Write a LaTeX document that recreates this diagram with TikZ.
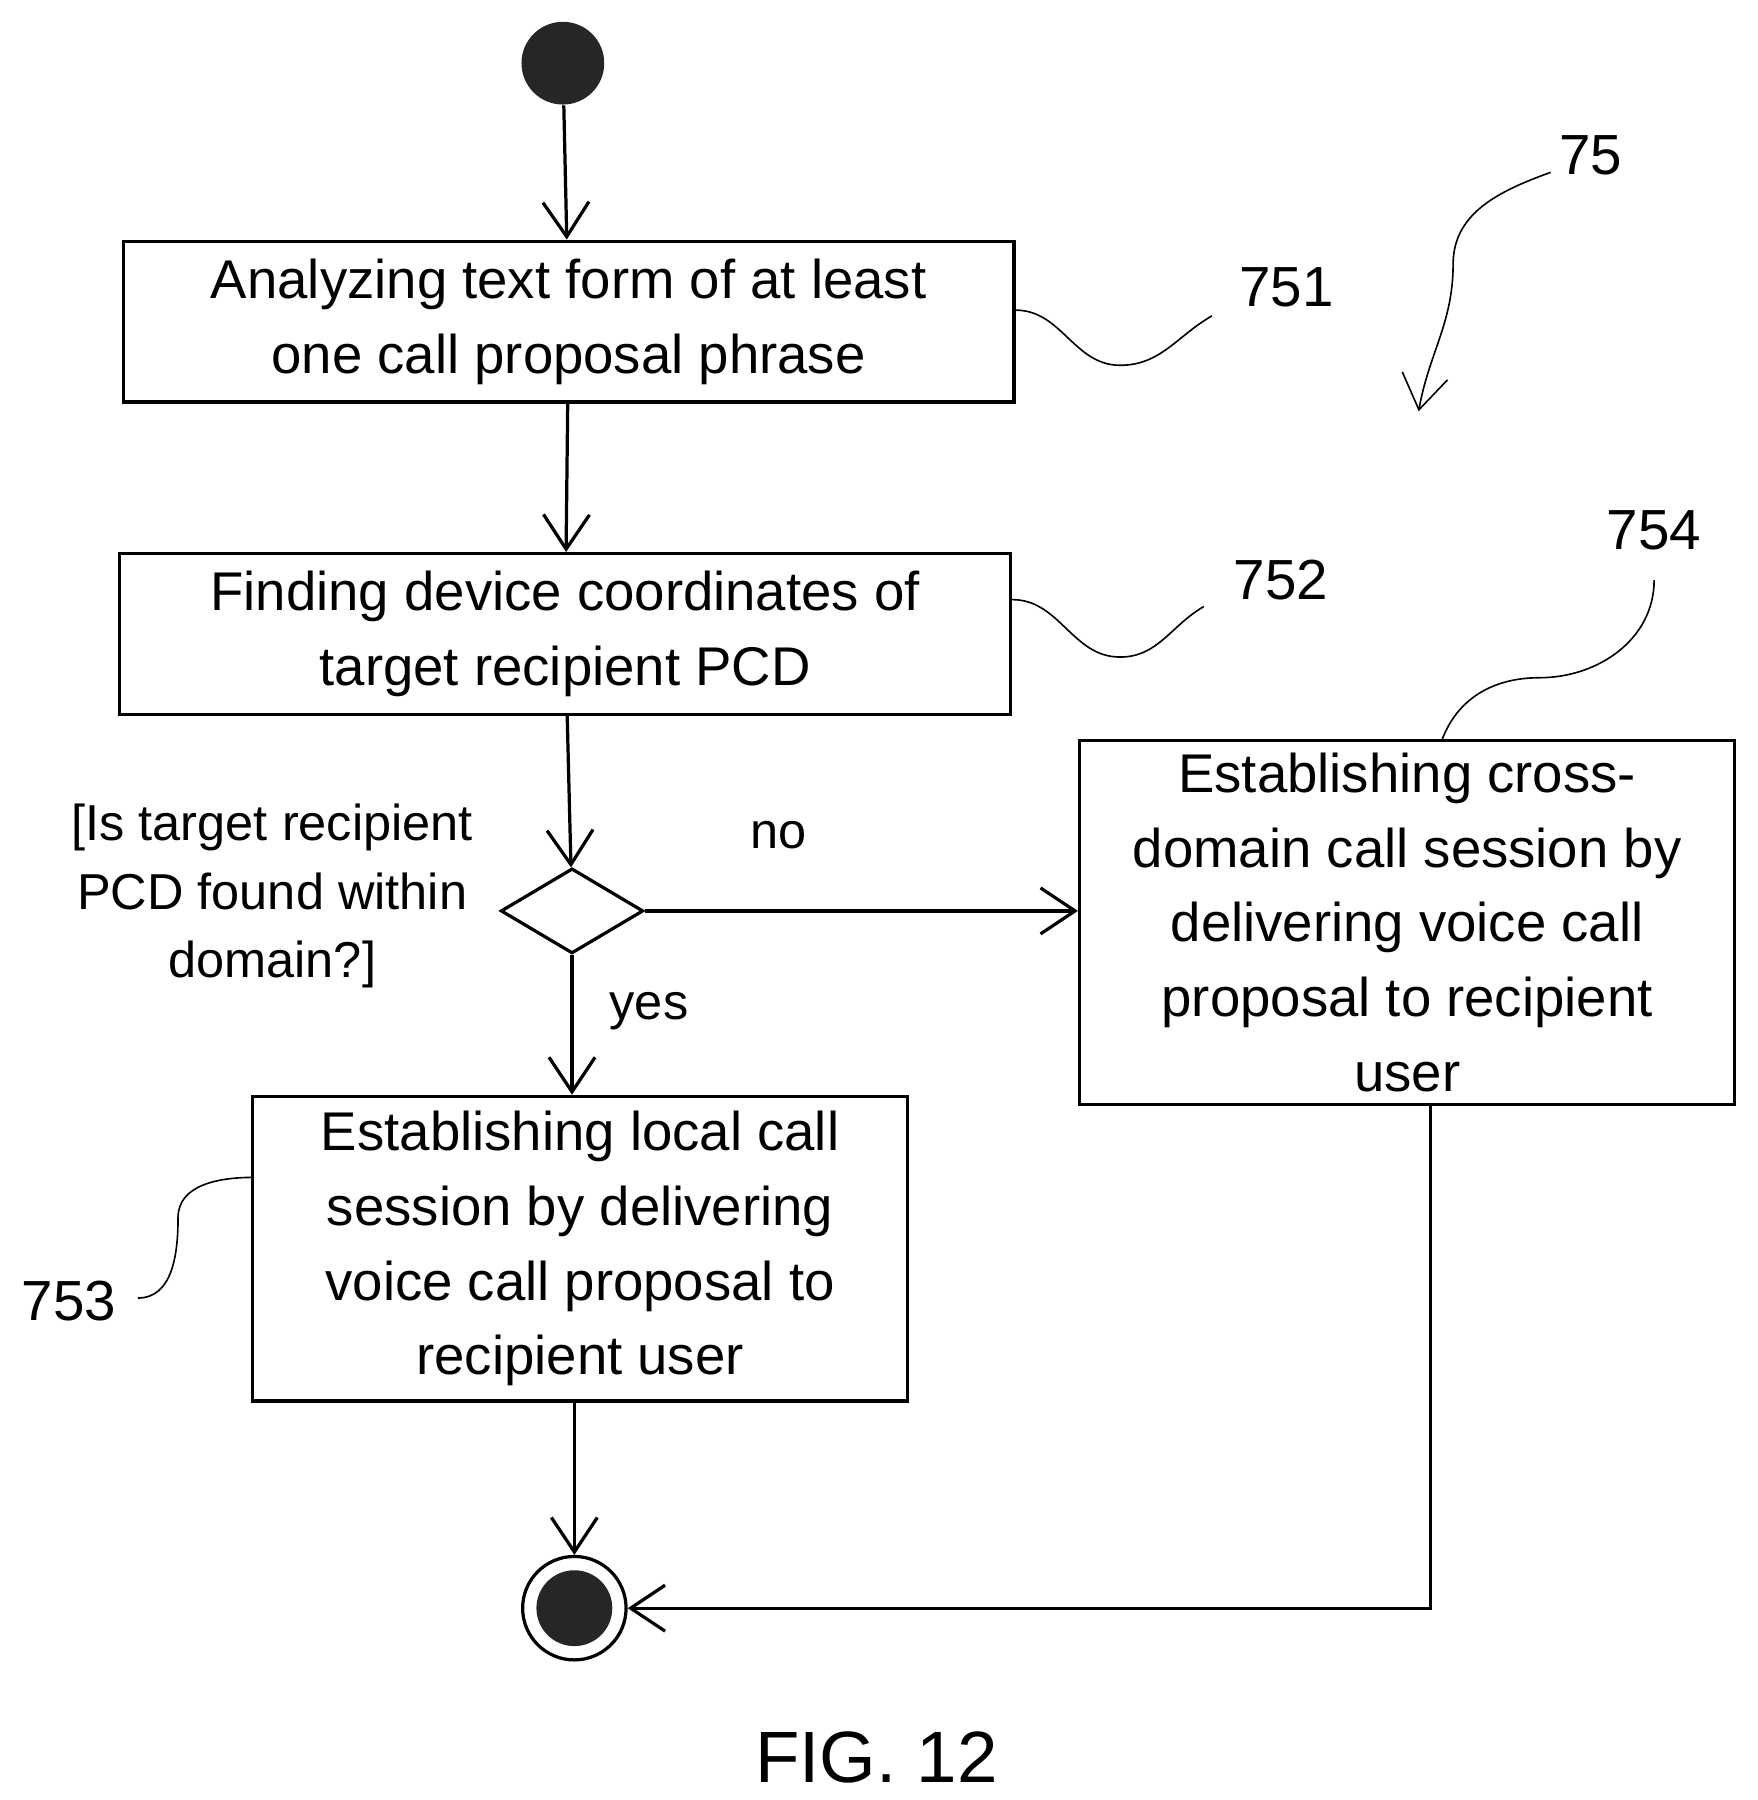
\documentclass[tikz,border=0pt]{standalone}
\usepackage{fontspec}
\setmainfont{Liberation Sans}
\usetikzlibrary{positioning}
\usetikzlibrary{shapes.geometric}
\usetikzlibrary{arrows}
\usetikzlibrary{arrows.meta}
\tikzset{>=stealth'}
\tikzset{action/.style={draw, thick, rectangle, align=center, inner sep=0pt, font=\fontsize{13.5}{18.5}\selectfont}}
\tikzset{flow/.style={draw, thick, -{Straight Barb[length=3mm,width=4mm]}}}
\tikzset{lead/.style={draw, thin}}
\tikzset{num/.style={font=\fontsize{14}{17}\selectfont}}

\begin{document}
\begin{tikzpicture}[x=0.01cm, y=-0.01cm]
\useasboundingbox (0,0) rectangle (1530,1567);

\node[circle, fill=black!85, minimum size=0.72cm, inner sep=0pt] (start) at (490,55) {};
\node[action, minimum width=7.75cm, minimum height=1.4cm] (find) at (495,280)
  {Analyzing text form of at least\\ one call proposal phrase};
\node[action, minimum width=7.75cm, minimum height=1.4cm] (coord) at (492,552)
  {Finding device coordinates of\\ target recipient PCD};
\node[draw, thick, diamond, aspect=1.7, minimum width=1.24cm, minimum height=0.74cm, inner sep=0pt] (dec) at (498,793) {};
\node[action, minimum width=5.7cm, minimum height=2.65cm] (local) at (505,1087)
  {Establishing local call\\ session by delivering\\ voice call proposal to\\ recipient user};
\node[action, minimum width=5.7cm, minimum height=3.17cm] (cross) at (1225,803)
  {Establishing cross-\\ domain call session by\\ delivering voice call\\ proposal to recipient\\ user};
\node[circle, draw, thick, minimum size=0.9cm, inner sep=0pt] (end) at (500,1400) {};
\node[circle, fill=black!85, minimum size=0.66cm, inner sep=0pt] at (end) {};

\node[align=center, font=\fontsize{12.5}{17}\selectfont] (guard) at (237,780)
  {[Is target recipient\\ PCD found within\\ domain?]};
\node[font=\fontsize{12.5}{15}\selectfont] (no) at (678,727) {no};
\node[font=\fontsize{12.5}{15}\selectfont] (yes) at (565,880) {yes};

\draw[flow] (start) -- (find);
\draw[flow] (find) -- (coord);
\draw[flow] (coord) -- (dec);
\draw[flow] (dec) -- (local.north -| dec);
\draw[flow] (dec) -- (cross.west |- dec);
\draw[flow] (local.south -| end) -- (end);
\coordinate (turn) at (1245,1400);
\draw[flow] (1245,962) -- (turn) -- (end);

% reference numerals
\node[num] (n751) at (1120,250) {751};
\node[num] (n752) at (1115,505) {752};
\node[num] (n753) at (60,1133) {753};
\node[num] (n754) at (1440,462) {754};
\node[num] (n75) at (1385,135) {75};

\draw[lead] (find.east) ++(0,-10) to[out=0, in=180] (975,318) to[out=0, in=210] (1055,275);
\draw[lead] (coord.east) ++(0,-30) to[out=0, in=180] (975,572) to[out=0, in=210] (1048,528);
\draw[lead] (1255,645) to[out=70, in=180] (1340,590) to[out=0, in=270] (1440,505);
\draw[lead] (120,1130) to[out=0, in=270] (155,1060) to[out=90, in=180] (220,1025);
\draw[lead, -{Straight Barb[length=3mm,width=4mm]}] (1350,150) to[out=200, in=90] (1265,230) to[out=270, in=80] (1235,358);

\node[font=\fontsize{18}{22}\selectfont] (fig) at (763,1530) {FIG. 12};
\end{tikzpicture}
\end{document}
